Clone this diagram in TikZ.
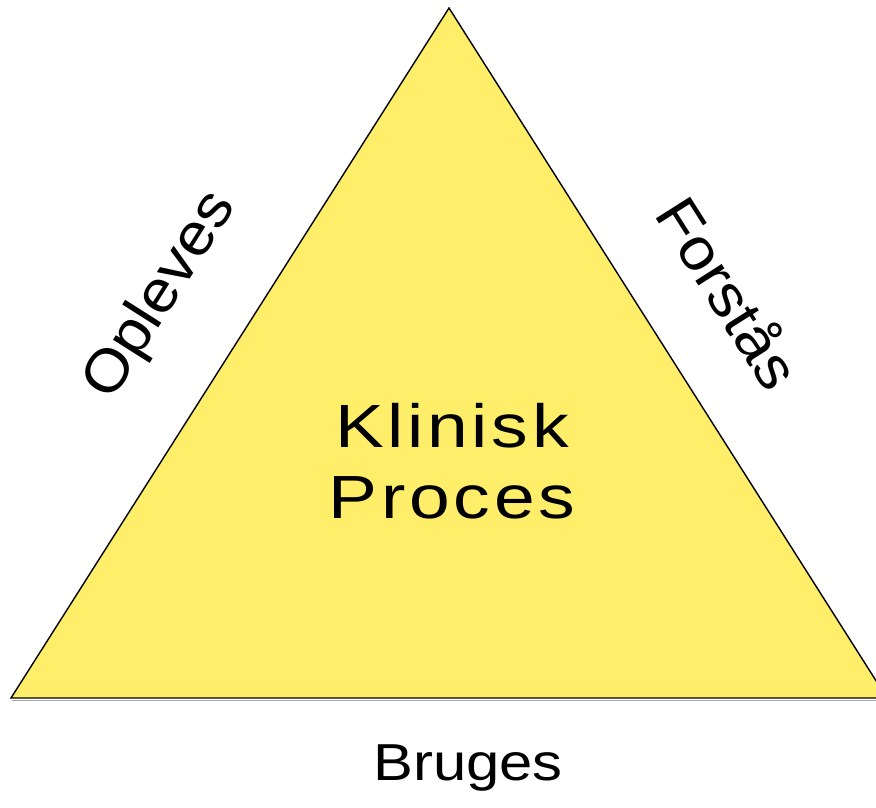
\documentclass[tikz,border=0pt]{standalone}
\usepackage{fontspec}
\setmainfont{Liberation Sans}
\newfontfamily\spacedfont[LetterSpace=6,FakeStretch=1.2]{Liberation Sans}
\newfontfamily\widefont[FakeStretch=1.15]{Liberation Sans}
\newfontfamily\sidefont[FakeStretch=1.08]{Liberation Sans}
\definecolor{triyellow}{RGB}{255,238,106}
\tikzset{
  sidelabel/.style={inner sep=0pt, font=\sidefont\fontsize{59}{66}\selectfont},
  bottomlabel/.style={inner sep=0pt, anchor=base, font=\widefont\fontsize{52}{60}\selectfont},
  centerlabel/.style={inner sep=0pt, anchor=base, font=\spacedfont\fontsize{61}{72}\selectfont},
}
\begin{document}
\begin{tikzpicture}[x=1pt,y=-1pt]
\useasboundingbox (0,0) rectangle (876,808);
\begin{scope}
\clip (0,0) rectangle (876,808);
\coordinate (apex) at (449,8);
\coordinate (bl) at (11,698);
\coordinate (br) at (887,698);
\draw[gray!70, line width=1.2pt] (12,700.5) -- (887,700.5);
\fill[triyellow] (apex) -- (bl) -- (br) -- cycle;
\draw[black, line width=1.4pt, line join=miter] (apex) -- (bl) -- (br) -- cycle;
\end{scope}
\node[centerlabel] (klinisk) at (452,447) {Klinisk};
\node[centerlabel] (proces) at (452,518) {Proces};
\node[sidelabel, rotate=57.6] (opleves) at (161,296) {Opleves};
\node[sidelabel, rotate=-57.6] (forstaas) at (730,292) {Forstås};
\node[bottomlabel] (bruges) at (468,780) {Bruges};
\end{tikzpicture}
\end{document}
